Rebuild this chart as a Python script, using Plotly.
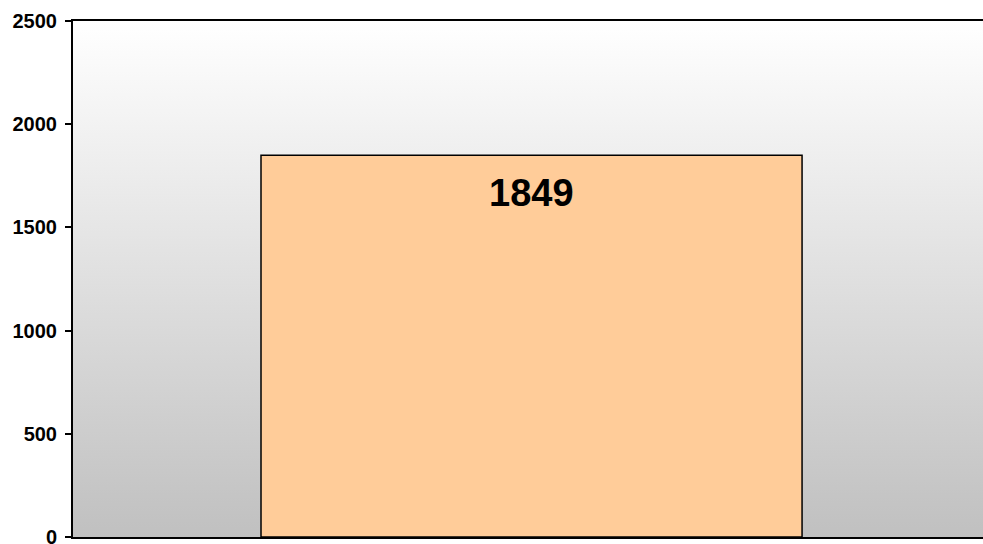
import plotly.graph_objects as go

categories = ["A"]
values = [1849]
y_ticks = [0, 500, 1000, 1500, 2000, 2500]

svg = ("data:image/svg+xml;utf8,"
       "<svg xmlns='http://www.w3.org/2000/svg' width='10' height='100' preserveAspectRatio='none'>"
       "<defs><linearGradient id='g' x1='0' y1='0' x2='0' y2='1'>"
       "<stop offset='0' stop-color='%23ffffff'/><stop offset='1' stop-color='%23c0c0c0'/>"
       "</linearGradient></defs><rect width='10' height='100' fill='url(%23g)'/></svg>")

fig = go.Figure()
fig.add_trace(go.Bar(
    x=categories, y=values,
    marker=dict(color="#FFCC99", line=dict(color="black", width=1.5)),
    hoverinfo="skip",
))
for c, v in zip(categories, values):
    fig.add_annotation(x=c, y=v, text=f"<b>{v}</b>", showarrow=False,
                       yanchor="middle", yshift=-38,
                       font=dict(family="Liberation Sans, Arial", size=38, color="black"))

fig.add_layout_image(dict(source=svg, xref="paper", yref="paper", x=0, y=1,
                          sizex=1, sizey=1, sizing="stretch", xanchor="left",
                          yanchor="top", layer="below"))

fig.update_layout(
    width=983, height=556,
    margin=dict(l=73, r=0, t=21, b=19),
    paper_bgcolor="white", plot_bgcolor="rgba(0,0,0,0)",
    bargap=0.41, showlegend=False,
    font=dict(family="Liberation Sans, Arial", size=20, color="black"),
)
fig.update_xaxes(range=[-0.5, 0.4923], showticklabels=False, ticks="",
                 showline=True, linecolor="black", linewidth=2, mirror=True,
                 showgrid=False, zeroline=False)
fig.update_yaxes(range=[0, 2500], tickvals=y_ticks,
                 ticktext=[f"<b>{t}</b>" for t in y_ticks],
                 ticks="outside", ticklen=6, tickwidth=2, tickcolor="black",
                 showline=True, linecolor="black", linewidth=2,
                 showgrid=False, zeroline=False, ticklabelstandoff=4,
                 automargin=False)
fig.write_html("out.html", config={"displayModeBar": False},
               post_script="document.body.style.margin='0';document.body.style.overflow='hidden';")
